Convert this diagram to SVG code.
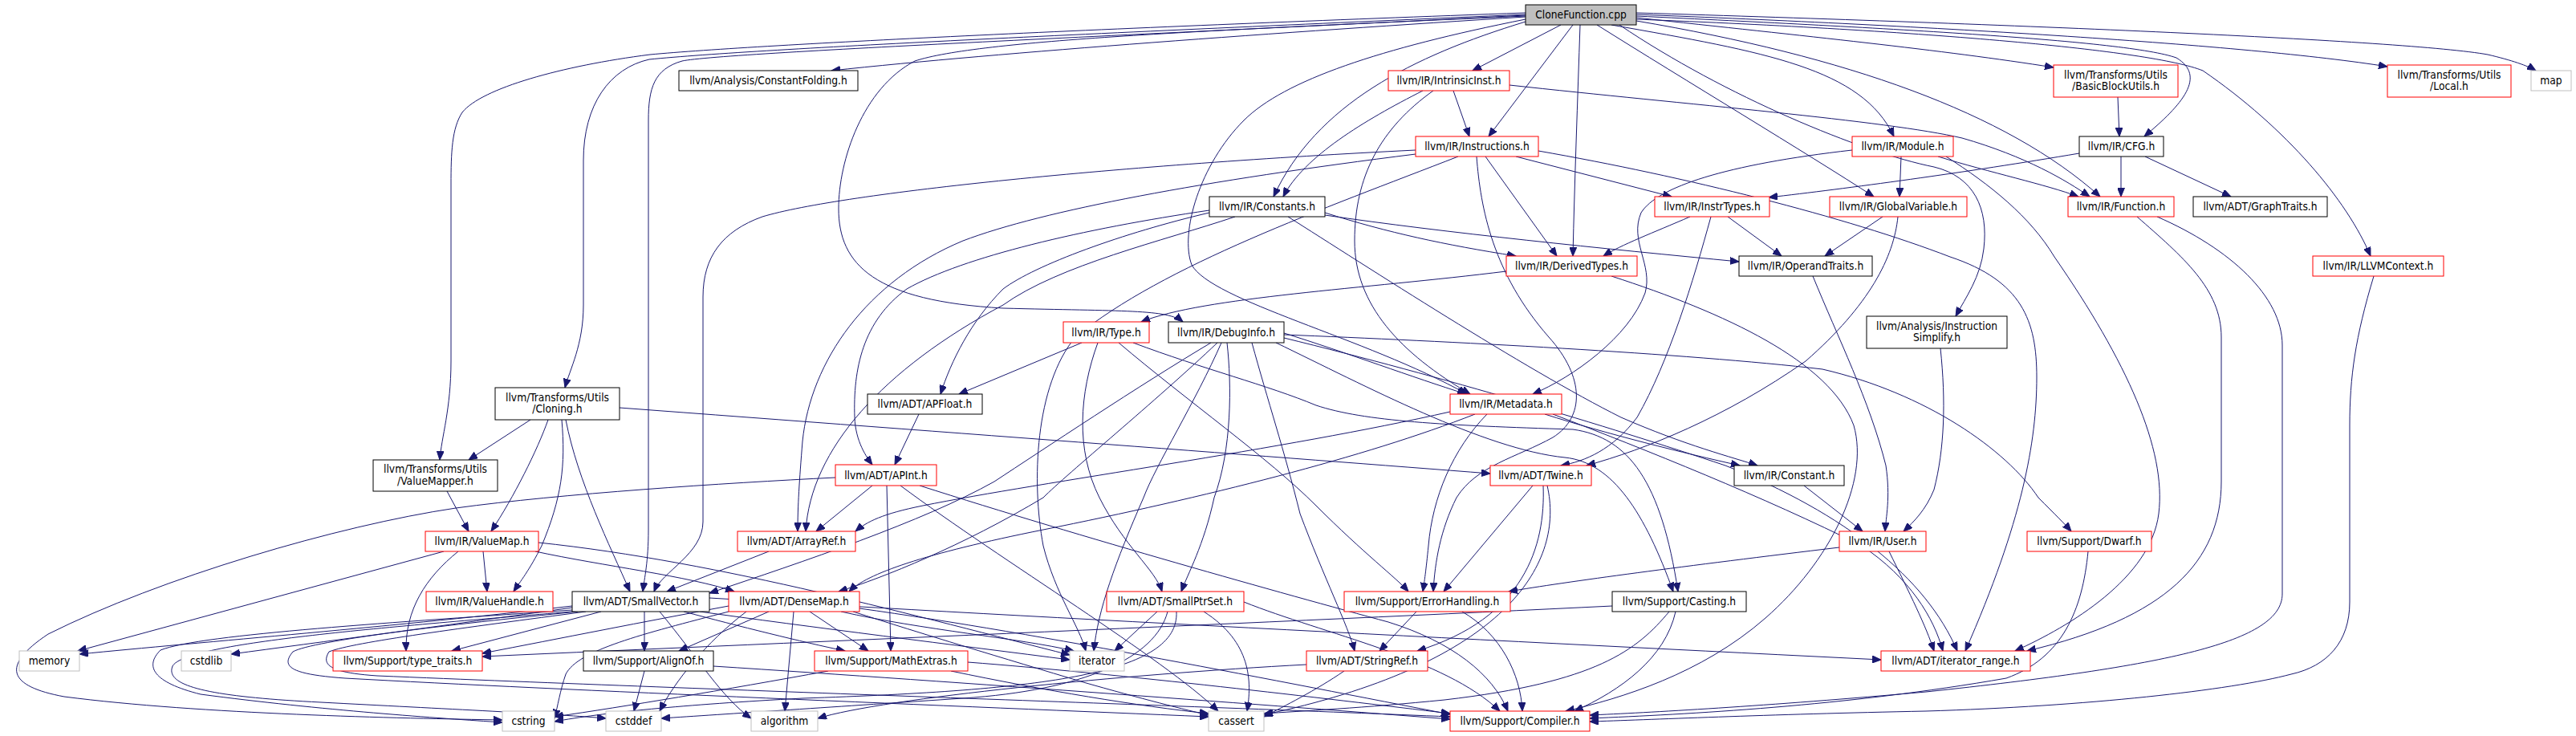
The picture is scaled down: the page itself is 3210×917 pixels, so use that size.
<svg xmlns="http://www.w3.org/2000/svg" width="3210" height="917" viewBox="0 0 3210 917">
<style>
.n rect{fill:#fff;stroke:#000;stroke-width:1}
.r rect{stroke:#f00}
.g rect{stroke:#bfbfbf}
.root rect{fill:#bfbfbf}
text{font-family:'DejaVu Sans Condensed','Liberation Sans',sans-serif;font-size:13.7px;text-anchor:middle;fill:#000}
#edges path{fill:none;stroke:#191970;stroke-width:1;marker-end:url(#a)}
</style>
<defs>
<marker id="a" markerUnits="userSpaceOnUse" markerWidth="12" markerHeight="9" refX="11" refY="4.5" orient="auto" viewBox="0 0 12 9"><path d="M0,0 L11,4.5 L0,9 z" fill="#191970" stroke="#191970" stroke-width="1"/></marker>
</defs>
<rect width="3210" height="917" fill="#fff"/>
<g id="edges">
<path d="M1901,21 C1600,40 1250,65 1036,88"/>
<path d="M1945,31 L1835,88"/>
<path d="M1960,31 L1855,170"/>
<path d="M1969,31 C1966,120 1962,230 1960,319"/>
<path d="M1901,27 C1760,70 1640,130 1587,245"/>
<path d="M1901,24 C1720,60 1600,100 1550,150 C1495,205 1470,290 1485,330 C1510,375 1700,420 1828,491"/>
<path d="M1990,31 C2100,100 2250,190 2335,245"/>
<path d="M2008,31 C2200,65 2320,85 2360,170"/>
<path d="M2039,26 C2300,70 2500,140 2617,245"/>
<path d="M2039,20 C2350,35 2650,50 2712,72 C2750,95 2720,130 2672,170"/>
<path d="M2039,22 C2250,45 2420,62 2559,84"/>
<path d="M2039,18 C2400,32 2800,55 2975,83"/>
<path d="M2039,16 C2500,30 3000,50 3100,68 C3130,75 3150,82 3160,88"/>
<path d="M2039,24 C2400,38 2680,62 2745,88 C2850,160 2925,250 2954,319"/>
<path d="M2018,31 C2150,120 2320,190 2410,208 C2460,220 2478,260 2472,310 C2468,345 2450,370 2437,394"/>
<path d="M1901,20 C1500,38 1220,50 1140,76 C1075,110 1045,200 1045,260 C1045,330 1090,375 1250,384 C1400,388 1455,385 1474,401"/>
<path d="M1901,18 C1400,40 950,60 809,74 C760,85 727,130 727,200 L727,380 C727,430 710,460 704,483"/>
<path d="M1901,16 C1400,34 950,55 810,68 C700,82 600,110 576,140 C563,160 562,190 562,230 L562,450 C562,510 550,545 548,573"/>
<path d="M1901,19 C1500,40 900,65 850,76 C815,86 808,110 808,150 L808,660 C808,700 803,720 801,737"/>
<path d="M1811,113 L1831,170"/>
<path d="M1773,113 C1700,150 1625,195 1599,245"/>
<path d="M1786,113 C1720,160 1688,220 1688,300 C1688,380 1745,440 1832,491"/>
<path d="M1881,106 C2100,130 2350,150 2445,172 C2525,195 2575,225 2604,245"/>
<path d="M1764,187 C1400,205 1050,240 950,270 C900,288 876,320 876,370 L876,650 C876,690 825,712 815,737"/>
<path d="M1764,192 C1500,225 1300,262 1200,300 C1080,350 1010,450 1000,550 C996,600 994,630 994,662"/>
<path d="M1851,195 L1940,319"/>
<path d="M1840,195 C1845,260 1860,340 1930,420 C1975,470 1975,520 1935,545 C1890,570 1840,580 1815,620 C1795,660 1788,700 1786,737"/>
<path d="M1889,195 L2083,245"/>
<path d="M1917,188 C2100,220 2300,270 2430,320 C2520,350 2538,400 2538,470 C2538,550 2520,650 2449,811"/>
<path d="M1817,195 C1650,260 1450,330 1340,420 C1290,480 1285,600 1300,680 C1315,740 1345,780 1353,811"/>
<path d="M1507,265 C1400,290 1290,330 1250,360 C1210,400 1185,450 1172,491"/>
<path d="M1507,262 C1350,285 1200,320 1130,360 C1075,400 1063,460 1065,520 C1066,550 1080,570 1087,579"/>
<path d="M1539,270 C1450,300 1320,330 1250,380 C1100,460 1010,560 1004,662"/>
<path d="M1605,270 C1700,330 1900,460 2020,520 C2100,555 2160,570 2190,580"/>
<path d="M1651,265 C1730,290 1800,305 1889,319"/>
<path d="M1651,268 C1800,290 2000,310 2167,326"/>
<path d="M2106,270 C2060,290 2020,305 1998,319"/>
<path d="M2132,270 C2110,350 2080,450 2040,520 C2010,560 1975,575 1945,580"/>
<path d="M2153,270 L2220,319"/>
<path d="M2346,270 L2274,319"/>
<path d="M2365,270 C2360,320 2330,380 2250,450 C2150,520 2050,560 1977,580"/>
<path d="M2308,187 C2150,205 2065,233 2045,265 C2030,300 2060,330 2050,365 C2030,420 1960,470 1910,491"/>
<path d="M2369,195 L2367,245"/>
<path d="M2415,195 C2480,215 2550,230 2590,245"/>
<path d="M2425,195 C2480,230 2530,270 2560,320 C2650,450 2700,560 2690,640 C2680,720 2580,780 2511,811"/>
<path d="M2591,191 C2450,215 2300,235 2204,246"/>
<path d="M2643,195 L2643,245"/>
<path d="M2673,195 L2780,245"/>
<path d="M2663,270 C2720,320 2768,360 2768,420 L2768,600 C2768,700 2700,770 2526,811"/>
<path d="M2688,270 C2780,310 2844,370 2844,430 L2844,740 C2844,800 2700,830 2400,862 C2200,880 2050,888 1981,891"/>
<path d="M1877,338 C1700,360 1500,370 1422,401"/>
<path d="M2008,344 C2150,390 2280,450 2310,530 C2330,600 2280,700 2200,770 C2120,840 2020,870 1951,886"/>
<path d="M2259,344 C2290,420 2330,500 2350,580 C2356,620 2350,645 2349,662"/>
<path d="M2958,344 C2935,420 2928,470 2928,530 L2928,750 C2928,800 2900,830 2855,840 C2780,860 2600,880 2400,886 C2200,890 2050,897 1981,899"/>
<path d="M1348,427 L1195,491"/>
<path d="M1368,427 C1345,490 1340,560 1370,620 C1400,680 1440,710 1448,737"/>
<path d="M1394,427 C1480,500 1580,570 1640,630 C1700,690 1740,720 1755,737"/>
<path d="M1412,427 C1500,460 1580,480 1640,505 C1700,525 1800,530 1960,535 C2030,545 2070,600 2091,737"/>
<path d="M1600,415 C1680,440 1760,470 1827,491"/>
<path d="M1509,427 C1420,480 1300,560 1239,600 C1150,650 1000,700 884,739"/>
<path d="M1517,427 C1440,500 1330,590 1300,620 C1200,680 1100,720 1045,737"/>
<path d="M1522,427 C1490,500 1440,580 1425,620 C1390,700 1368,760 1363,811"/>
<path d="M1529,427 C1535,480 1535,560 1513,620 C1500,680 1480,715 1472,737"/>
<path d="M1600,417 C1800,425 2100,440 2271,460 C2400,490 2500,560 2540,620 C2560,640 2575,655 2581,662"/>
<path d="M1600,421 C1800,470 2000,530 2150,580 C2300,640 2400,720 2439,811"/>
<path d="M1560,427 C1580,500 1600,560 1620,640 C1650,720 1680,780 1688,811"/>
<path d="M1590,427 C1700,480 1850,560 1950,570 C2010,576 2050,640 2085,737"/>
<path d="M1807,513 C1600,560 1300,600 1150,630 C1100,640 1080,650 1066,662"/>
<path d="M1838,516 C1700,570 1500,620 1300,660 C1150,690 1080,715 1058,737"/>
<path d="M1853,516 C1810,560 1785,620 1780,680 C1777,710 1775,725 1773,737"/>
<path d="M1925,516 C2000,540 2100,565 2168,580"/>
<path d="M1935,516 C2050,560 2200,620 2320,680 C2380,720 2410,770 2421,811"/>
<path d="M661,523 L584,573"/>
<path d="M683,523 C670,560 640,620 612,662"/>
<path d="M700,523 C705,580 700,620 675,680 C660,710 648,725 640,737"/>
<path d="M705,523 C720,600 760,680 785,737"/>
<path d="M772,508 C1200,540 1600,570 1857,590"/>
<path d="M557,612 L584,662"/>
<path d="M553,687 L97,811"/>
<path d="M571,687 C530,720 505,760 506,811"/>
<path d="M602,687 L607,737"/>
<path d="M667,687 C750,705 860,718 915,737"/>
<path d="M671,676 C900,700 1150,770 1333,816"/>
<path d="M958,687 L831,737"/>
<path d="M1145,516 L1115,579"/>
<path d="M1087,605 L1017,662"/>
<path d="M1105,605 L1110,811"/>
<path d="M1122,605 C1250,700 1450,820 1518,886"/>
<path d="M1146,605 C1350,670 1600,740 1730,775 C1810,800 1860,840 1879,886"/>
<path d="M1041,595 C900,602 700,615 568,633 C420,655 200,720 60,790 C0,830 10,855 80,868 C250,890 500,895 626,897"/>
<path d="M713,755 C500,780 250,800 99,815"/>
<path d="M713,757 C550,780 400,800 288,815"/>
<path d="M713,760 C500,775 250,790 200,810 C180,830 190,850 250,865 C400,885 550,895 626,900"/>
<path d="M713,762 C500,780 230,800 215,830 C205,855 260,868 400,875 C550,883 700,890 755,895"/>
<path d="M749,762 L563,811"/>
<path d="M803,762 L803,811"/>
<path d="M852,762 C920,780 1000,800 1053,811"/>
<path d="M872,762 C1000,780 1200,805 1333,822"/>
<path d="M822,762 C870,820 900,870 936,895"/>
<path d="M720,762 C560,778 390,798 365,812 C350,830 360,840 430,845 C700,860 1200,880 1506,893"/>
<path d="M730,762 C580,782 440,800 410,812 C400,828 410,838 470,842 C900,860 1500,880 1807,893"/>
<path d="M884,745 C1300,770 1900,800 2344,822"/>
<path d="M958,762 L846,811"/>
<path d="M989,762 L978,886"/>
<path d="M1009,762 L1082,811"/>
<path d="M1048,762 C1150,785 1270,795 1338,811"/>
<path d="M1063,762 C1150,790 1250,820 1350,850 C1420,870 1480,885 1506,891"/>
<path d="M1071,758 C1300,790 1600,850 1807,890"/>
<path d="M908,755 C800,775 700,795 601,814"/>
<path d="M908,762 C800,790 720,810 705,840 C698,860 695,880 691,895"/>
<path d="M930,762 C880,800 840,850 822,886"/>
<path d="M803,836 L790,886"/>
<path d="M889,830 C1200,850 1600,880 1807,896"/>
<path d="M1032,836 C900,860 780,880 691,893"/>
<path d="M1185,836 C1300,860 1420,880 1506,889"/>
<path d="M1206,825 C1400,840 1650,870 1807,889"/>
<path d="M1442,762 L1389,811"/>
<path d="M1455,762 C1440,820 1350,860 1200,870 C1050,880 900,890 824,895"/>
<path d="M1466,762 C1470,840 1300,860 1000,870 C850,878 750,888 691,899"/>
<path d="M1500,762 C1560,800 1560,850 1554,886"/>
<path d="M1550,750 C1650,790 1800,820 1869,886"/>
<path d="M1765,762 L1719,811"/>
<path d="M1822,762 C1870,790 1895,840 1897,886"/>
<path d="M1910,605 L1799,737"/>
<path d="M1923,605 C1926,680 1900,770 1766,811"/>
<path d="M1928,605 C1950,700 1880,820 1600,885 C1590,887 1582,889 1575,891"/>
<path d="M1628,828 C1400,840 1100,870 1019,895"/>
<path d="M1675,836 C1640,860 1600,880 1575,893"/>
<path d="M2009,755 C1600,775 1000,800 601,818"/>
<path d="M2080,762 C2040,810 1990,850 1800,872 C1700,882 1620,886 1575,889"/>
<path d="M2088,762 C2075,820 2020,860 1962,886"/>
<path d="M2292,682 C2100,705 1950,725 1880,737"/>
<path d="M2354,687 C2380,740 2400,780 2410,811"/>
<path d="M2248,605 L2321,662"/>
<path d="M2418,434 C2425,500 2423,560 2410,610 C2400,635 2385,650 2372,662"/>
<path d="M2602,687 C2595,760 2570,820 2500,845 C2300,880 2100,890 1981,895"/>
<path d="M2639,121 L2641,170"/>
</g>
<g id="n1" class="n root"><rect x="1901" y="6" width="138" height="25"/><text x="1970" y="23">CloneFunction.cpp</text></g>
<g id="n2" class="n"><rect x="846" y="88" width="223" height="25"/><text x="957.5" y="105">llvm/Analysis/ConstantFolding.h</text></g>
<g id="n3" class="n r"><rect x="1730" y="88" width="151" height="25"/><text x="1805.5" y="105">llvm/IR/IntrinsicInst.h</text></g>
<g id="n4" class="n r"><rect x="2559" y="81" width="155" height="40"/><text x="2636.5" y="97.5">llvm/Transforms/Utils</text><text x="2636.5" y="112">/BasicBlockUtils.h</text></g>
<g id="n5" class="n r"><rect x="2975" y="81" width="154" height="40"/><text x="3052" y="97.5">llvm/Transforms/Utils</text><text x="3052" y="112">/Local.h</text></g>
<g id="n6" class="n g"><rect x="3154" y="88" width="50" height="25"/><text x="3179" y="105">map</text></g>
<g id="n7" class="n r"><rect x="1764" y="170" width="153" height="25"/><text x="1840.5" y="187">llvm/IR/Instructions.h</text></g>
<g id="n8" class="n r"><rect x="2308" y="170" width="126" height="25"/><text x="2371" y="187">llvm/IR/Module.h</text></g>
<g id="n9" class="n"><rect x="2591" y="170" width="105" height="25"/><text x="2643.5" y="187">llvm/IR/CFG.h</text></g>
<g id="n10" class="n"><rect x="1507" y="245" width="144" height="25"/><text x="1579" y="262">llvm/IR/Constants.h</text></g>
<g id="n11" class="n r"><rect x="2062" y="245" width="143" height="25"/><text x="2133.5" y="262">llvm/IR/InstrTypes.h</text></g>
<g id="n12" class="n r"><rect x="2280" y="245" width="171" height="25"/><text x="2365.5" y="262">llvm/IR/GlobalVariable.h</text></g>
<g id="n13" class="n r"><rect x="2577" y="245" width="132" height="25"/><text x="2643" y="262">llvm/IR/Function.h</text></g>
<g id="n14" class="n"><rect x="2733" y="245" width="167" height="25"/><text x="2816.5" y="262">llvm/ADT/GraphTraits.h</text></g>
<g id="n15" class="n r"><rect x="1877" y="319" width="163" height="25"/><text x="1958.5" y="336">llvm/IR/DerivedTypes.h</text></g>
<g id="n16" class="n"><rect x="2167" y="319" width="166" height="25"/><text x="2250" y="336">llvm/IR/OperandTraits.h</text></g>
<g id="n17" class="n r"><rect x="2882" y="319" width="163" height="25"/><text x="2963.5" y="336">llvm/IR/LLVMContext.h</text></g>
<g id="n18" class="n r"><rect x="1325" y="401" width="107" height="26"/><text x="1378.5" y="418.5">llvm/IR/Type.h</text></g>
<g id="n19" class="n"><rect x="1456" y="401" width="144" height="26"/><text x="1528" y="418.5">llvm/IR/DebugInfo.h</text></g>
<g id="n20" class="n"><rect x="2326" y="394" width="175" height="40"/><text x="2413.5" y="410.5">llvm/Analysis/Instruction</text><text x="2413.5" y="425">Simplify.h</text></g>
<g id="n21" class="n"><rect x="617" y="483" width="155" height="40"/><text x="694.5" y="499.5">llvm/Transforms/Utils</text><text x="694.5" y="514">/Cloning.h</text></g>
<g id="n22" class="n"><rect x="1081" y="491" width="143" height="25"/><text x="1152.5" y="508">llvm/ADT/APFloat.h</text></g>
<g id="n23" class="n r"><rect x="1807" y="491" width="139" height="25"/><text x="1876.5" y="508">llvm/IR/Metadata.h</text></g>
<g id="n24" class="n"><rect x="465" y="573" width="155" height="39"/><text x="542.5" y="589">llvm/Transforms/Utils</text><text x="542.5" y="603.5">/ValueMapper.h</text></g>
<g id="n25" class="n r"><rect x="1041" y="579" width="126" height="26"/><text x="1104" y="596.5">llvm/ADT/APInt.h</text></g>
<g id="n26" class="n r"><rect x="1857" y="580" width="126" height="25"/><text x="1920" y="597">llvm/ADT/Twine.h</text></g>
<g id="n27" class="n"><rect x="2161" y="580" width="137" height="25"/><text x="2229.5" y="597">llvm/IR/Constant.h</text></g>
<g id="n28" class="n r"><rect x="530" y="662" width="141" height="25"/><text x="600.5" y="679">llvm/IR/ValueMap.h</text></g>
<g id="n29" class="n r"><rect x="919" y="662" width="147" height="25"/><text x="992.5" y="679">llvm/ADT/ArrayRef.h</text></g>
<g id="n30" class="n r"><rect x="2292" y="662" width="108" height="25"/><text x="2346" y="679">llvm/IR/User.h</text></g>
<g id="n31" class="n r"><rect x="2526" y="662" width="155" height="25"/><text x="2603.5" y="679">llvm/Support/Dwarf.h</text></g>
<g id="n32" class="n r"><rect x="531" y="737" width="158" height="25"/><text x="610" y="754">llvm/IR/ValueHandle.h</text></g>
<g id="n33" class="n"><rect x="713" y="737" width="171" height="25"/><text x="798.5" y="754">llvm/ADT/SmallVector.h</text></g>
<g id="n34" class="n r"><rect x="908" y="737" width="163" height="25"/><text x="989.5" y="754">llvm/ADT/DenseMap.h</text></g>
<g id="n35" class="n r"><rect x="1379" y="737" width="171" height="25"/><text x="1464.5" y="754">llvm/ADT/SmallPtrSet.h</text></g>
<g id="n36" class="n r"><rect x="1675" y="737" width="207" height="25"/><text x="1778.5" y="754">llvm/Support/ErrorHandling.h</text></g>
<g id="n37" class="n"><rect x="2009" y="737" width="167" height="25"/><text x="2092.5" y="754">llvm/Support/Casting.h</text></g>
<g id="n38" class="n g"><rect x="24" y="811" width="75" height="25"/><text x="61.5" y="828">memory</text></g>
<g id="n39" class="n g"><rect x="226" y="811" width="62" height="25"/><text x="257" y="828">cstdlib</text></g>
<g id="n40" class="n r"><rect x="415" y="811" width="186" height="25"/><text x="508" y="828">llvm/Support/type_traits.h</text></g>
<g id="n41" class="n"><rect x="727" y="811" width="162" height="25"/><text x="808" y="828">llvm/Support/AlignOf.h</text></g>
<g id="n42" class="n r"><rect x="1015" y="811" width="191" height="25"/><text x="1110.5" y="828">llvm/Support/MathExtras.h</text></g>
<g id="n43" class="n g"><rect x="1333" y="811" width="68" height="25"/><text x="1367" y="828">iterator</text></g>
<g id="n44" class="n r"><rect x="1628" y="811" width="151" height="25"/><text x="1703.5" y="828">llvm/ADT/StringRef.h</text></g>
<g id="n45" class="n r"><rect x="2344" y="811" width="186" height="25"/><text x="2437" y="828">llvm/ADT/iterator_range.h</text></g>
<g id="n46" class="n g"><rect x="626" y="886" width="65" height="25"/><text x="658.5" y="903">cstring</text></g>
<g id="n47" class="n g"><rect x="755" y="886" width="69" height="25"/><text x="789.5" y="903">cstddef</text></g>
<g id="n48" class="n g"><rect x="936" y="886" width="83" height="25"/><text x="977.5" y="903">algorithm</text></g>
<g id="n49" class="n g"><rect x="1506" y="886" width="69" height="25"/><text x="1540.5" y="903">cassert</text></g>
<g id="n50" class="n r"><rect x="1807" y="886" width="174" height="25"/><text x="1894" y="903">llvm/Support/Compiler.h</text></g>
</svg>
